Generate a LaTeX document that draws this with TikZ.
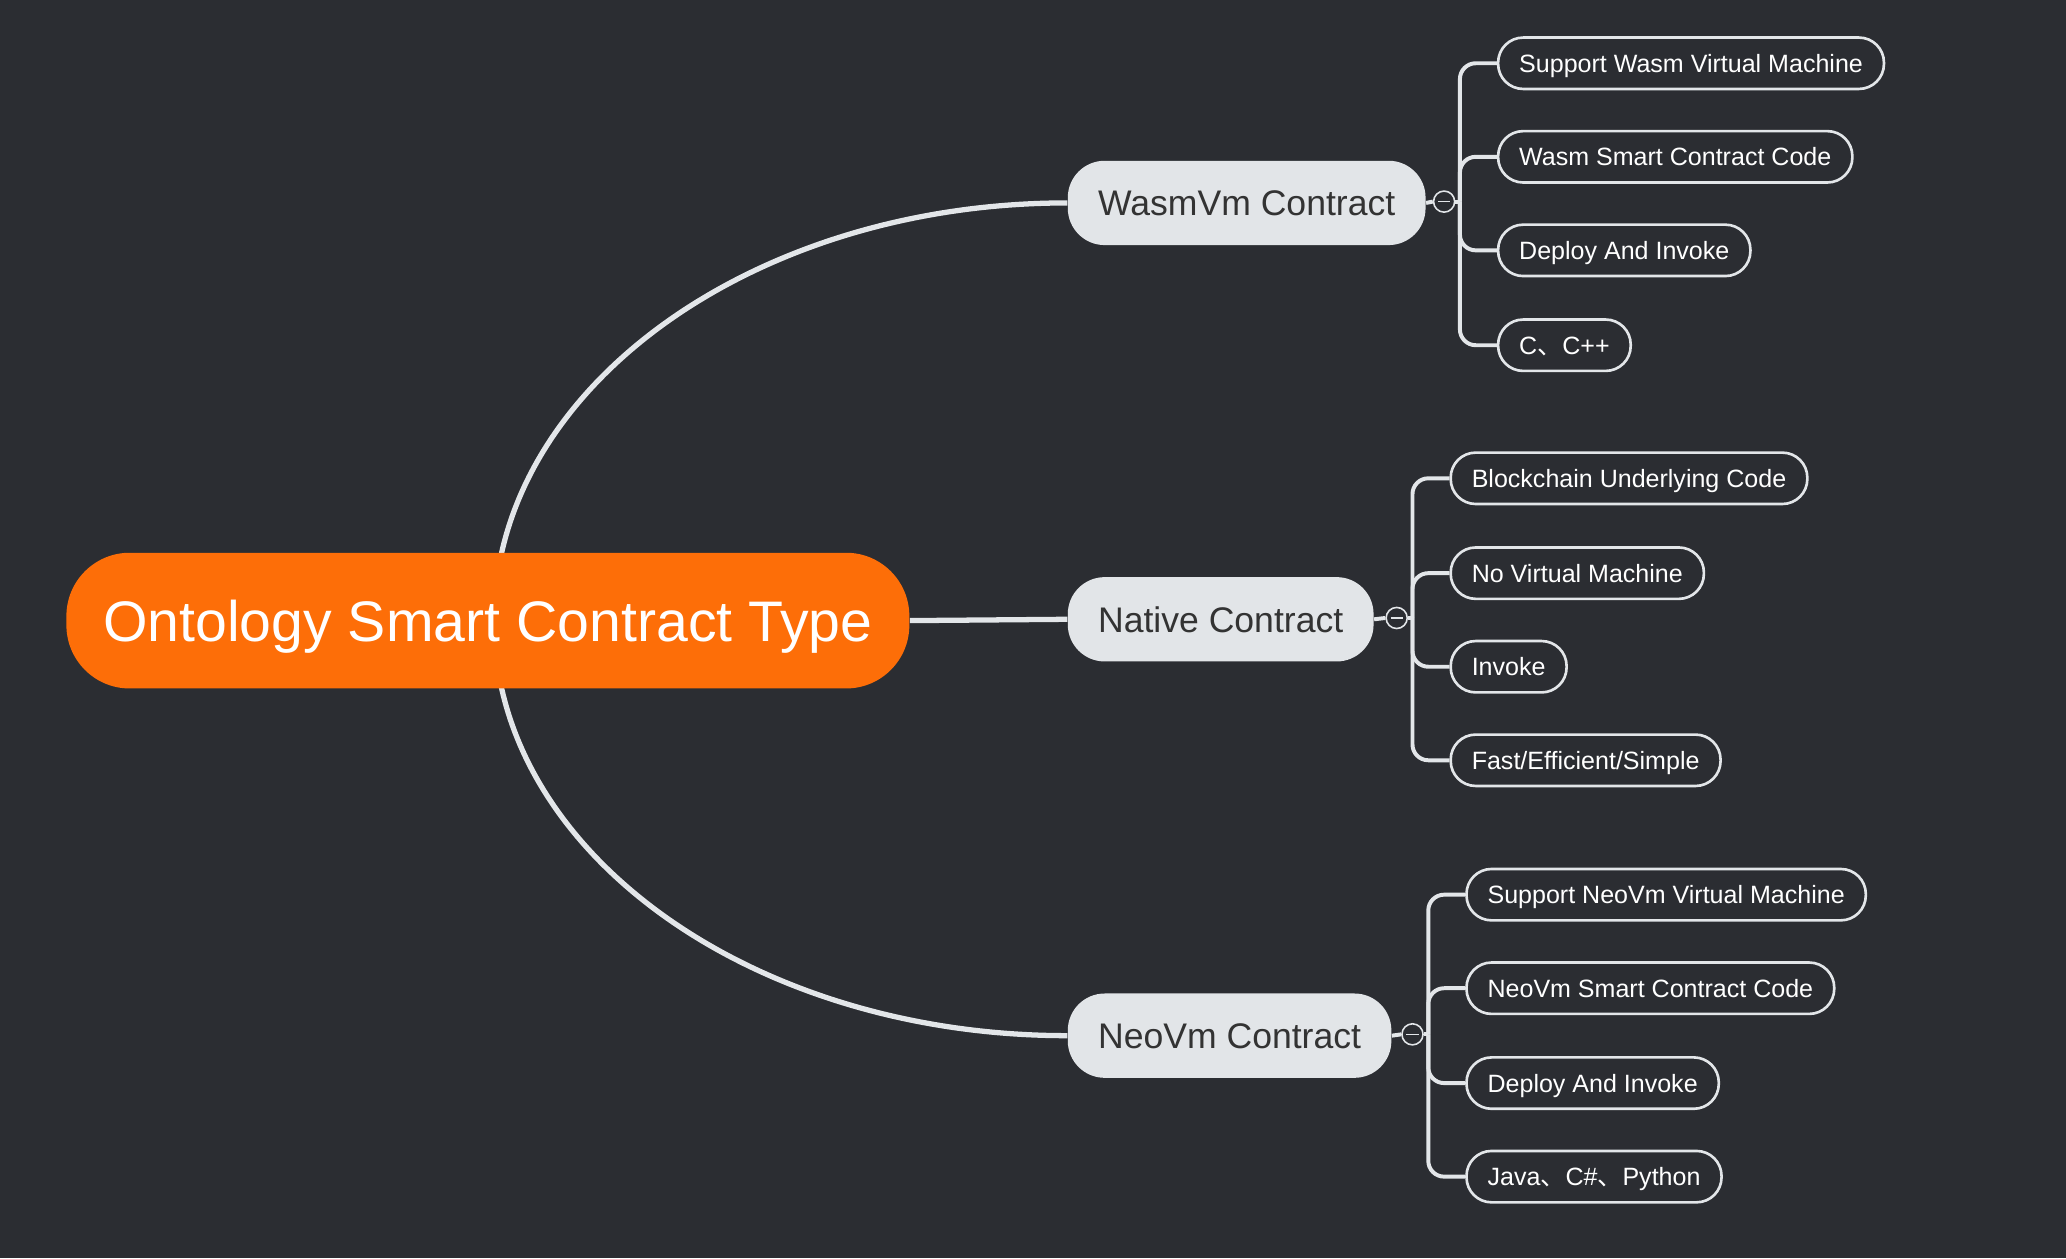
\documentclass[tikz,border=0pt]{standalone}
\usepackage{fontspec}
\setmainfont{Liberation Sans}
\newfontfamily\cjk{Noto Sans CJK SC}
\usetikzlibrary{calc}
\definecolor{bgc}{HTML}{2B2D32}
\definecolor{orangec}{HTML}{FD6E08}
\definecolor{branchc}{HTML}{E2E5E8}
\definecolor{linec}{HTML}{E3E6E9}
\definecolor{darktext}{HTML}{333333}
\pgfdeclarelayer{bglayer}
\pgfdeclarelayer{connlayer}
\pgfsetlayers{bglayer,connlayer,main}
\tikzset{
  rootbox/.style={fill=orangec, text=white, rounded corners=24pt, minimum height=51.5pt,
    inner xsep=14pt, inner ysep=0pt, text height=15.5pt, text depth=0pt,
    font=\fontsize{21.7}{26}\selectfont, anchor=west},
  branchbox/.style={fill=branchc, text=darktext, rounded corners=14pt, minimum height=32pt,
    inner xsep=11.5pt, inner ysep=0pt, text height=9.7pt, text depth=0pt,
    font=\fontsize{13.5}{16}\selectfont, anchor=west},
  leafbox/.style={draw=linec, line width=1pt, fill=bgc, text=white, rounded corners=9.5pt,
    minimum height=19.5pt, inner xsep=8pt, inner ysep=0pt, text height=6.8pt, text depth=0pt,
    font=\fontsize{9.5}{12}\selectfont, anchor=west},
  collapse/.style={circle, draw=linec, line width=0.6pt, fill=bgc, minimum size=8pt, inner sep=0pt},
  minusmark/.style={draw=linec, line width=0.6pt},
  mainconn/.style={draw=linec, line width=2pt},
  subconn/.style={draw=linec, line width=1.5pt},
  leafconn/.style={draw=linec, line width=1.5pt, rounded corners=6pt},
}
\begin{document}
\begin{tikzpicture}[x=0.5pt, y=-0.5pt]
\begin{pgfonlayer}{bglayer}
\fill[bgc] (0,0) rectangle (1568,955);
\end{pgfonlayer}
\useasboundingbox (0,0) rectangle (1568,955);

% root and branches
\node[rootbox] (root) at (50,471) {Ontology Smart Contract Type};
\coordinate (rootc) at (375,471);
\node[branchbox] (wasm) at (810,154) {WasmVm Contract};
\node[branchbox] (native) at (810,470) {Native Contract};
\node[branchbox] (neo) at (810,786) {NeoVm Contract};

% collapse markers
\node[collapse] (wcol) at (1096,153) {};
\node[collapse] (ncol) at (1060,469) {};
\node[collapse] (ecol) at (1072,785) {};
\foreach \c in {wcol,ncol,ecol}{
  \draw[minusmark] ([xshift=-2.3pt]\c.center) -- ([xshift=2.3pt]\c.center);
}
\coordinate (wv) at (1108,153);
\coordinate (nv) at (1072,469);
\coordinate (ev) at (1084,785);

% leaves
\node[leafbox] (w1) at (1136,48) {Support Wasm Virtual Machine};
\node[leafbox] (w2) at (1136,119) {Wasm Smart Contract Code};
\node[leafbox] (w3) at (1136,190) {Deploy And Invoke};
\node[leafbox] (w4) at (1136,262) {C{\cjk 、}C++};

\node[leafbox] (n1) at (1100,363) {Blockchain Underlying Code};
\node[leafbox] (n2) at (1100,435) {No Virtual Machine};
\node[leafbox] (n3) at (1100,506) {Invoke};
\node[leafbox] (n4) at (1100,577) {Fast/Efficient/Simple};

\node[leafbox] (e1) at (1112,679) {Support NeoVm Virtual Machine};
\node[leafbox] (e2) at (1112,750) {NeoVm Smart Contract Code};
\node[leafbox] (e3) at (1112,822) {Deploy And Invoke};
\node[leafbox] (e4) at (1112,893) {Java{\cjk 、}C\#{\cjk 、}Python};

\begin{pgfonlayer}{connlayer}
\draw[mainconn] (rootc) .. controls (375,296) and (570,154) .. (wasm.west);
\draw[mainconn] (rootc) .. controls (375,646) and (570,786) .. (neo.west);
\draw[mainconn] (root.east) -- (native.west);

\draw[subconn] (wasm.east) -- (wcol.west);
\draw[subconn] (wcol.east) -- (wv);
\draw[subconn] (native.east) -- (ncol.west);
\draw[subconn] (ncol.east) -- (nv);
\draw[subconn] (neo.east) -- (ecol.west);
\draw[subconn] (ecol.east) -- (ev);

\foreach \l in {w1,w2,w3,w4}{ \draw[leafconn] (wv) |- (\l.west); }
\foreach \l in {n1,n2,n3,n4}{ \draw[leafconn] (nv) |- (\l.west); }
\foreach \l in {e1,e2,e3,e4}{ \draw[leafconn] (ev) |- (\l.west); }
\end{pgfonlayer}
\end{tikzpicture}
\end{document}
